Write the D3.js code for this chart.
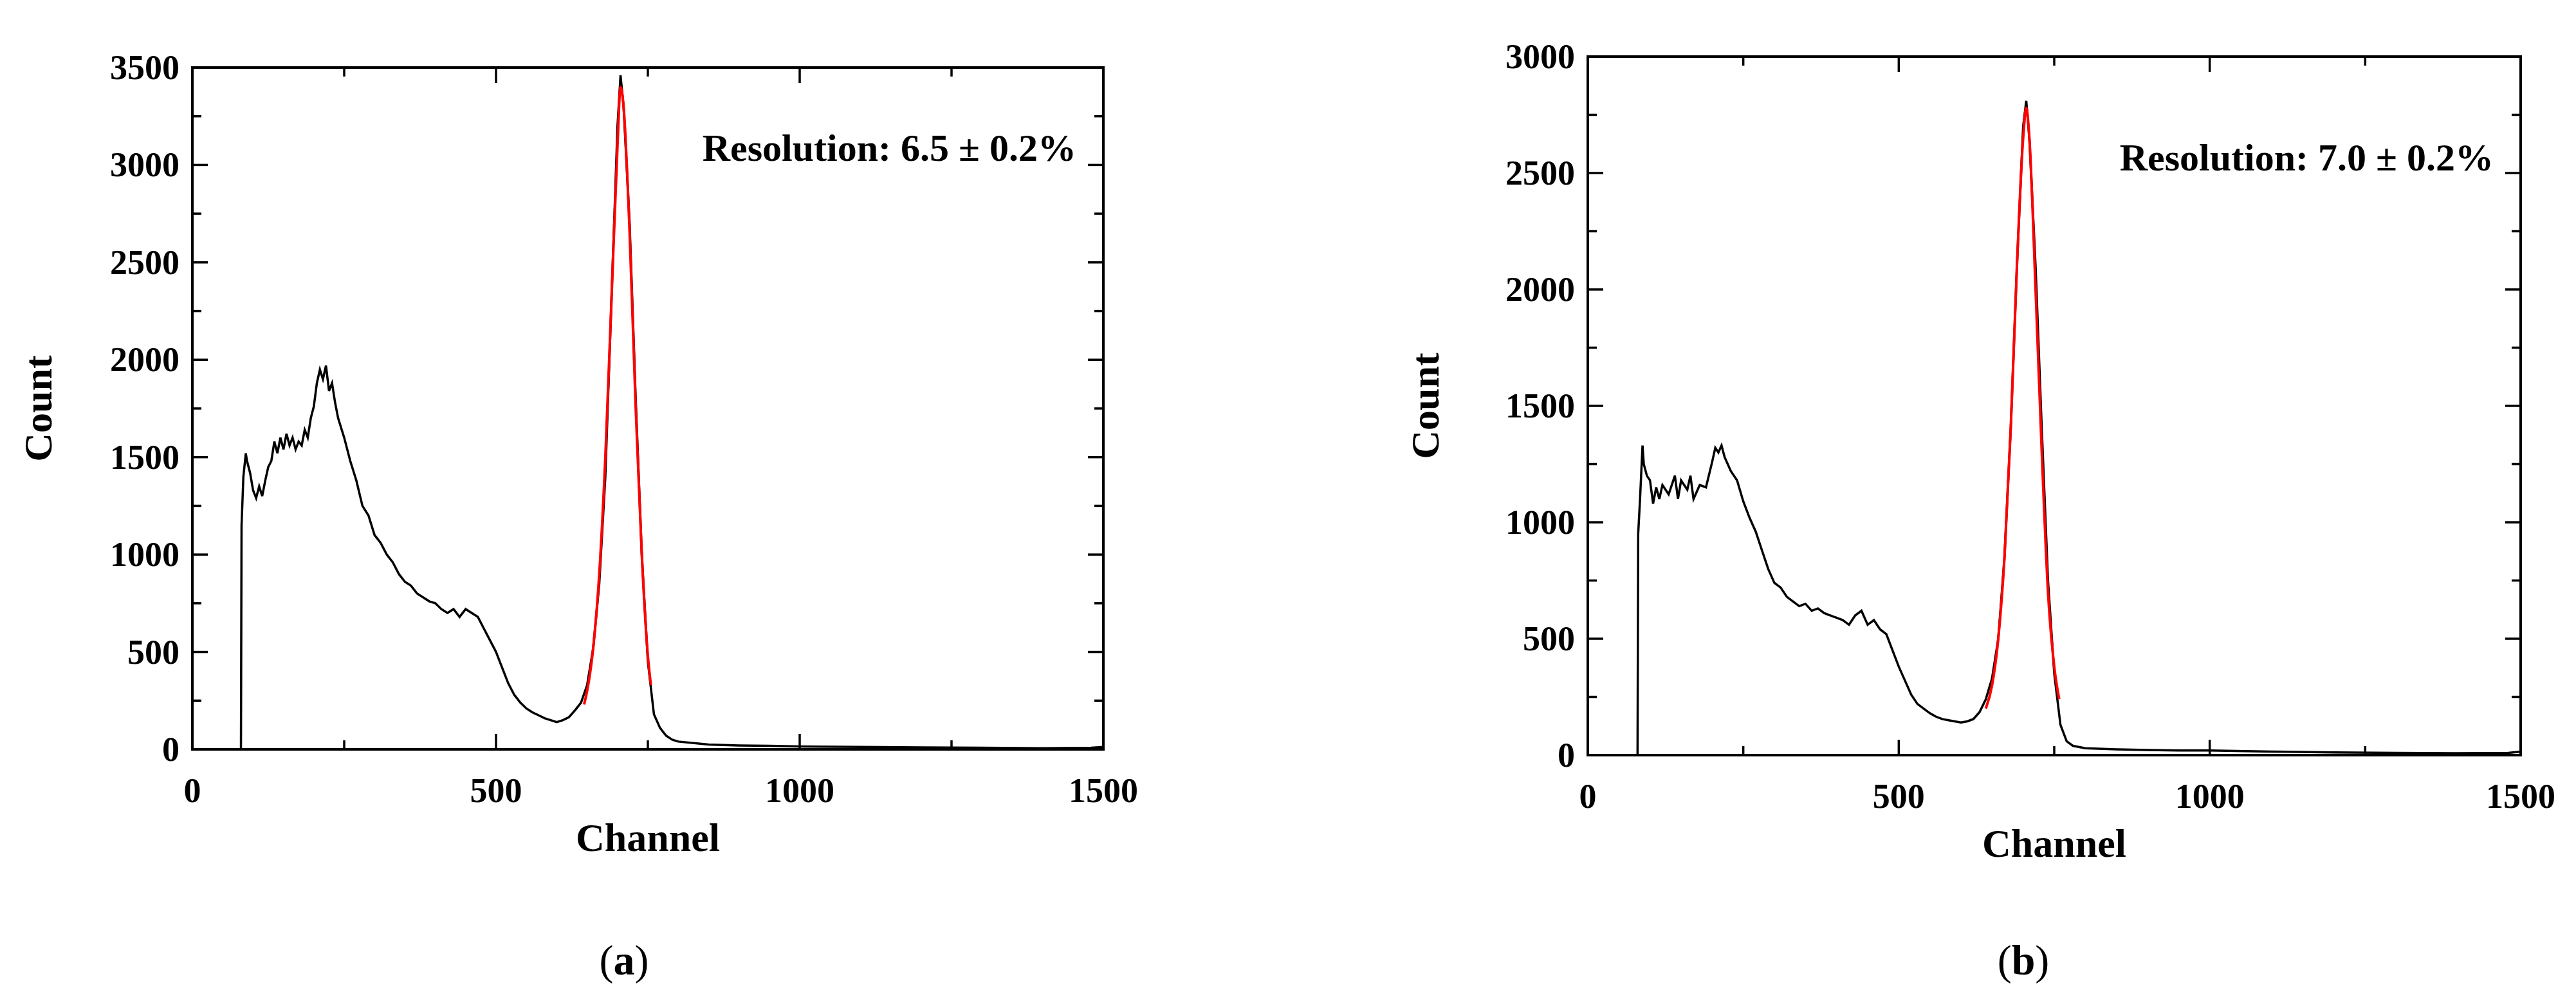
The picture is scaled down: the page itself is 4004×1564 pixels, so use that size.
<!DOCTYPE html>
<html><head><meta charset="utf-8">
<script src="https://cdn.jsdelivr.net/npm/d3@7"></script>
<style>body{margin:0;background:#fff}</style></head>
<body><svg id="c" width="4004" height="1564"></svg>
<script>
const chA = [80,81,84,88,90,95,100,105,110,115,120,125,130,135,140,145,150,155,160,165,170,175,180,185,190,195,200,205,210,215,220,225,230,235,240,250,260,270,280,290,300,310,320,330,340,350,360,370,380,390,400,410,420,430,440,450,460,470,480,490,500,510,520,530,540,550,560,570,580,590,600,610,620,630,640,650,660,670,680,690,700,705,710,720,730,740,750,760,770,780,790,800,850,900,950,1000,1100,1200,1300,1400,1480,1500];
const cntA = [0,1150,1400,1520,1480,1420,1330,1290,1350,1300,1380,1450,1480,1580,1520,1600,1540,1620,1560,1600,1540,1580,1560,1640,1600,1700,1760,1880,1950,1900,1970,1840,1880,1780,1700,1600,1480,1380,1250,1200,1100,1060,1000,960,900,860,840,800,780,760,750,720,700,720,680,720,700,680,620,560,500,420,340,280,240,210,190,175,160,150,140,150,165,200,240,330,520,850,1400,2300,3200,3460,3300,2700,1800,1000,450,180,110,70,50,40,25,20,18,15,12,10,8,6,8,12];
const fitXA = [645,650,660,670,680,690,700,705,710,720,730,740,750,755];
const fitYA = [230,300,520,900,1500,2300,3100,3400,3300,2650,1750,1000,480,330];
const chB = [80,81,84,88,90,95,100,105,110,115,120,130,140,145,150,160,165,170,180,190,200,205,210,215,220,230,240,250,260,270,280,290,300,310,320,330,340,350,360,370,380,390,400,410,420,430,440,450,460,470,480,490,500,510,520,530,540,550,560,570,580,590,600,610,620,630,640,650,660,670,680,690,700,705,710,720,730,740,750,760,770,780,800,850,900,950,1000,1100,1200,1300,1400,1480,1500];
const cntB = [0,950,1100,1330,1250,1200,1180,1080,1150,1100,1160,1120,1200,1100,1180,1140,1200,1100,1160,1150,1260,1320,1300,1330,1280,1220,1180,1090,1020,960,880,800,740,720,680,660,640,650,620,630,610,600,590,580,560,600,620,560,580,540,520,450,380,320,260,220,200,180,165,155,150,145,140,145,155,185,240,330,500,850,1400,2100,2700,2810,2650,2100,1400,750,350,130,60,40,30,25,22,20,20,15,12,10,8,10,15];
const fitXB = [640,650,660,670,680,690,700,705,710,720,730,740,750,758];
const fitYB = [200,300,500,850,1400,2100,2650,2780,2650,2000,1300,700,380,240];
const xTicks = [0,500,1000,1500];
const yTicksA = [0,500,1000,1500,2000,2500,3000,3500];
const yTicksB = [0,500,1000,1500,2000,2500,3000];

const svg = d3.select("#c");
const FONT = "'Liberation Serif','Times New Roman',serif";

function panel(o){
  const g = svg.append("g");
  const x = d3.scaleLinear().domain([0,1500]).range([o.x0,o.x1]);
  const y = d3.scaleLinear().domain([0,o.ymax]).range([o.y1,o.y0]);
  const minorX = d3.range(250,1500,500);
  const minorY = d3.range(250,o.ymax,500);
  const tl=24, tm=14;
  [[o.y1,-1],[o.y0,1]].forEach(([yy,d])=>{
    xTicks.forEach(t=>g.append("line").attr("x1",x(t)).attr("x2",x(t)).attr("y1",yy).attr("y2",yy+d*tl).attr("stroke","#000").attr("stroke-width",3.5));
    minorX.forEach(t=>g.append("line").attr("x1",x(t)).attr("x2",x(t)).attr("y1",yy).attr("y2",yy+d*tm).attr("stroke","#000").attr("stroke-width",3.5));
  });
  [[o.x0,1],[o.x1,-1]].forEach(([xx,d])=>{
    o.yTicks.forEach(t=>g.append("line").attr("y1",y(t)).attr("y2",y(t)).attr("x1",xx).attr("x2",xx+d*tl).attr("stroke","#000").attr("stroke-width",3.5));
    minorY.forEach(t=>g.append("line").attr("y1",y(t)).attr("y2",y(t)).attr("x1",xx).attr("x2",xx+d*tm).attr("stroke","#000").attr("stroke-width",3.5));
  });
  g.append("rect").attr("x",o.x0).attr("y",o.y0).attr("width",o.x1-o.x0).attr("height",o.y1-o.y0).attr("fill","none").attr("stroke","#000").attr("stroke-width",4);
  xTicks.forEach(t=>g.append("text").attr("x",x(t)).attr("y",o.y1+82).attr("text-anchor","middle").attr("font-family",FONT).attr("font-weight","bold").attr("font-size",54).text(t));
  o.yTicks.forEach(t=>g.append("text").attr("x",o.x0-20).attr("y",y(t)+18).attr("text-anchor","end").attr("font-family",FONT).attr("font-weight","bold").attr("font-size",54).text(t));
  g.append("text").attr("x",(o.x0+o.x1)/2).attr("y",o.y1+158).attr("text-anchor","middle").attr("font-family",FONT).attr("font-weight","bold").attr("font-size",62).text("Channel");
  g.append("text").attr("transform",`translate(${o.lx},${(o.y0+o.y1)/2}) rotate(-90)`).attr("text-anchor","middle").attr("font-family",FONT).attr("font-weight","bold").attr("font-size",62).text("Count");
  const line = d3.line().x(d=>x(d[0])).y(d=>y(d[1]));
  g.append("path").datum(d3.zip(o.ch,o.cnt)).attr("d",line).attr("fill","none").attr("stroke","#000").attr("stroke-width",3.5);
  g.append("path").datum(d3.zip(o.fx,o.fy)).attr("d",line.curve(d3.curveMonotoneX)).attr("fill","none").attr("stroke","#ff0000").attr("stroke-width",4);
  g.append("text").attr("x",o.x1-42).attr("y",o.ry).attr("text-anchor","end").attr("font-family",FONT).attr("font-weight","bold").attr("font-size",60).text(o.res);
  const cap = g.append("text").attr("x",o.cx).attr("y",1515).attr("text-anchor","middle").attr("font-family",FONT).attr("font-size",66);
  cap.append("tspan").text("(");
  cap.append("tspan").attr("font-weight","bold").text(o.cap);
  cap.append("tspan").text(")");
}
panel({x0:299,x1:1715,y0:105,y1:1165,ymax:3500,yTicks:yTicksA,ch:chA,cnt:cntA,fx:fitXA,fy:fitYA,lx:80,ry:250,res:"Resolution: 6.5 ± 0.2%",cx:970,cap:"a"});
panel({x0:2468,x1:3918,y0:88,y1:1174,ymax:3000,yTicks:yTicksB,ch:chB,cnt:cntB,fx:fitXB,fy:fitYB,lx:2236,ry:265,res:"Resolution: 7.0 ± 0.2%",cx:3145,cap:"b"});
</script></body></html>
